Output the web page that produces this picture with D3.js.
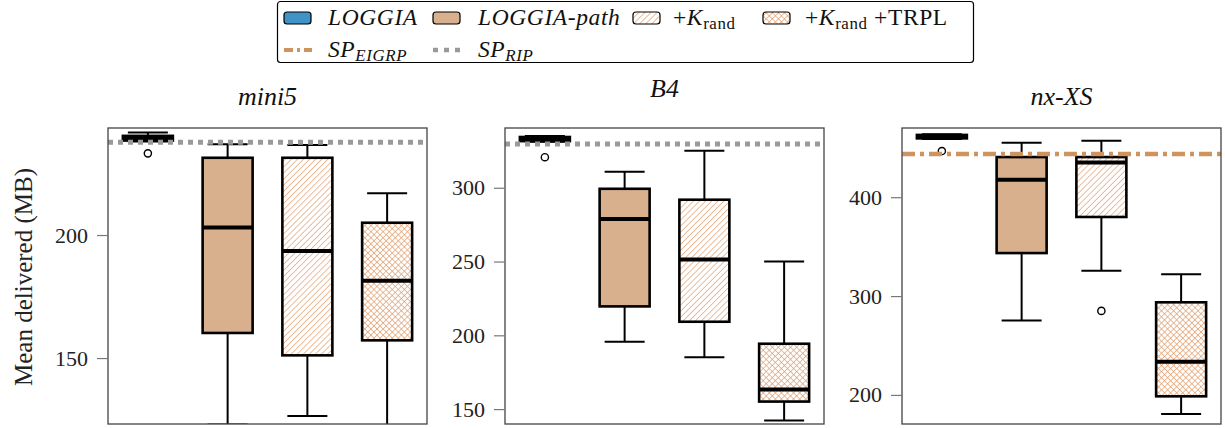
<!DOCTYPE html>
<html>
<head>
<meta charset="utf-8">
<script src="https://cdn.jsdelivr.net/npm/d3@7/dist/d3.min.js"></script>
<style>
  html, body { margin: 0; padding: 0; background: #fff; }
  svg { display: block; }
  svg text { font-family: "Liberation Serif", "DejaVu Serif", serif; }
</style>
</head>
<body>
<svg id="chart" width="1225" height="428"></svg>
<script>
// ---- data -------------------------------------------------------------
const methods = ["LOGGIA", "LOGGIA-path", "+Krand", "+Krand +TRPL"];
const topologies = ["mini5", "B4", "nx-XS"];

// box statistics per method: [lower whisker, Q1, median, Q3, upper whisker]
const mini5Stats = [
  [238.0, 238.4, 239.4, 240.3, 241.7],
  [123.0, 160.2, 203.1, 231.4, 236.9],
  [126.5, 151.1, 193.5, 231.4, 236.6],
  [110.0, 157.2, 181.4, 205.0, 217.0]
];
const b4Stats = [
  [331.2, 331.6, 333.0, 334.4, 335.0],
  [195.7, 219.6, 278.8, 299.3, 310.8],
  [185.1, 209.2, 251.4, 291.9, 325.0],
  [142.2, 155.1, 163.2, 194.3, 250.0]
];
const nxxsStats = [
  [458.8, 459.5, 461.3, 463.0, 463.8],
  [275.2, 343.5, 417.6, 440.6, 455.1],
  [325.5, 380.0, 435.2, 440.6, 457.2],
  [180.7, 198.6, 233.5, 293.7, 322.1]
];
// outliers per method
const mini5Outliers = [[233.2], [], [], []];
const b4Outliers = [[320.7], [], [], []];
const nxxsOutliers = [[446.7], [], [285.0], []];

// shortest-path reference levels
const mini5Ref = { name: "RIP", value: 237.7 };
const b4Ref = { name: "RIP", value: 329.7 };
const nxxsRef = { name: "EIGRP", value: 443.6 };

// axis ranges and ticks
const mini5Domain = [123.2, 243.5];
const b4Domain = [139.9, 340.5];
const nxxsDomain = [170.6, 470.0];
const mini5Ticks = [150, 200];
const b4Ticks = [150, 200, 250, 300];
const nxxsTicks = [200, 300, 400];

// ---- styling ----------------------------------------------------------
const BLUE = "#3f93c6";
const TAN = "#d9b08e";
const HATCH = "#e09a66";
const EIGRP_COLOR = "#cf935f";
const RIP_COLOR = "#9a9a9a";

const panels = [
  { title: "mini5", stats: mini5Stats, outliers: mini5Outliers, ref: mini5Ref, domain: mini5Domain, ticks: mini5Ticks, left: 108, titleY: 105 },
  { title: "B4", stats: b4Stats, outliers: b4Outliers, ref: b4Ref, domain: b4Domain, ticks: b4Ticks, left: 505, titleY: 97 },
  { title: "nx-XS", stats: nxxsStats, outliers: nxxsOutliers, ref: nxxsRef, domain: nxxsDomain, ticks: nxxsTicks, left: 902, titleY: 105 }
];
const PW = 319, TOP = 128, BOTTOM = 424;

const svg = d3.select("#chart");
const defs = svg.append("defs");

// hatch patterns: single diagonal and crossed diagonals
function hatchPattern(id, crossed) {
  const s = 4.3;
  const pat = defs.append("pattern").attr("id", id)
    .attr("patternUnits", "userSpaceOnUse").attr("width", s).attr("height", s)
    .attr("patternTransform", "rotate(45)");
  pat.append("rect").attr("width", s).attr("height", s).attr("fill", "#fff");
  pat.append("line").attr("x1", 0).attr("y1", 0).attr("x2", 0).attr("y2", s)
    .attr("stroke", HATCH).attr("stroke-width", 1.3);
  if (crossed) {
    pat.append("line").attr("x1", 0).attr("y1", 0).attr("x2", s).attr("y2", 0)
      .attr("stroke", HATCH).attr("stroke-width", 1.3);
  }
}
hatchPattern("hatchDiag", false);
hatchPattern("hatchCross", true);

const fills = [BLUE, TAN, "url(#hatchDiag)", "url(#hatchCross)"];

panels.forEach((p, pi) => {
  const g = svg.append("g");
  const x = d3.scaleBand().domain(methods).range([p.left, p.left + PW]);
  const y = d3.scaleLinear().domain(p.domain).range([BOTTOM, TOP]);

  const clipId = "clip" + pi;
  defs.append("clipPath").attr("id", clipId)
    .append("rect").attr("x", p.left).attr("y", TOP).attr("width", PW).attr("height", BOTTOM - TOP);

  const plot = g.append("g").attr("clip-path", `url(#${clipId})`);
  const boxW = 50, capW = 40;

  p.stats.forEach((s, i) => {
    const cx = x(methods[i]) + x.bandwidth() / 2;
    const [lo, q1, med, q3, hi] = s;
    const bg = plot.append("g");
    // whiskers and caps
    bg.append("line").attr("x1", cx).attr("x2", cx).attr("y1", y(hi)).attr("y2", y(q3))
      .attr("stroke", "#000").attr("stroke-width", 2);
    bg.append("line").attr("x1", cx).attr("x2", cx).attr("y1", y(q1)).attr("y2", y(lo))
      .attr("stroke", "#000").attr("stroke-width", 2);
    [lo, hi].forEach(v => bg.append("line")
      .attr("x1", cx - capW / 2).attr("x2", cx + capW / 2).attr("y1", y(v)).attr("y2", y(v))
      .attr("stroke", "#000").attr("stroke-width", 2));
    // interquartile box
    bg.append("rect").attr("x", cx - boxW / 2).attr("width", boxW)
      .attr("y", y(q3)).attr("height", Math.max(0.5, y(q1) - y(q3)))
      .attr("fill", fills[i]).attr("stroke", "#000").attr("stroke-width", 2.6);
    // median
    bg.append("line").attr("x1", cx - boxW / 2).attr("x2", cx + boxW / 2)
      .attr("y1", y(med)).attr("y2", y(med)).attr("stroke", "#000").attr("stroke-width", 4);
    // outliers
    p.outliers[i].forEach(v => bg.append("circle").attr("cx", cx).attr("cy", y(v)).attr("r", 3.6)
      .attr("fill", "#fff").attr("stroke", "#000").attr("stroke-width", 1.4));
  });

  // shortest-path reference line
  const isRip = p.ref.name === "RIP";
  plot.append("line").attr("x1", p.left).attr("x2", p.left + PW)
    .attr("y1", y(p.ref.value)).attr("y2", y(p.ref.value))
    .attr("stroke", isRip ? RIP_COLOR : EIGRP_COLOR)
    .attr("stroke-width", isRip ? 5 : 4.5)
    .attr("stroke-dasharray", isRip ? "5,5" : "13,5,4,5");

  // frame
  g.append("rect").attr("x", p.left).attr("y", TOP).attr("width", PW).attr("height", BOTTOM - TOP)
    .attr("fill", "none").attr("stroke", "#444").attr("stroke-width", 1.3);

  // y axis
  const ax = g.append("g").attr("transform", `translate(${p.left},0)`)
    .call(d3.axisLeft(y).tickValues(p.ticks).tickSize(11).tickPadding(9).tickFormat(d3.format("d")));
  ax.attr("font-family", null).attr("font-size", 22);
  ax.select(".domain").remove();
  ax.selectAll(".tick line").attr("stroke", "#777").attr("stroke-width", 1.2);
  ax.selectAll(".tick text").attr("font-size", 22).attr("fill", "#222");

  // panel title
  g.append("text").attr("x", p.left + PW / 2).attr("y", p.titleY)
    .attr("text-anchor", "middle").attr("font-size", 26).attr("font-style", "italic")
    .attr("fill", "#111").text(p.title);
});

// y axis label
svg.append("text").attr("transform", "translate(32,277) rotate(-90)")
  .attr("text-anchor", "middle").attr("font-size", 25).attr("fill", "#222")
  .text("Mean delivered (MB)");

// ---- legend -----------------------------------------------------------
const legend = svg.append("g");
legend.append("rect").attr("x", 277.5).attr("y", 1.5).attr("width", 696).attr("height", 61)
  .attr("rx", 3).attr("fill", "#fff").attr("stroke", "#000").attr("stroke-width", 1.2);

const patchX = [284, 433, 633, 763];
const textX = [328, 478, 673, 805];
const row1 = 18, row2 = 50;
const FS = 23.5;

[0, 1, 2, 3].forEach(i => {
  legend.append("rect").attr("x", patchX[i]).attr("y", row1 - 6).attr("width", 27).attr("height", 12)
    .attr("rx", 3).attr("fill", fills[i]).attr("stroke", "#000").attr("stroke-width", 1.2);
});

function addText(xp, yp) {
  return legend.append("text").attr("x", xp).attr("y", yp + 7).attr("font-size", FS)
    .attr("letter-spacing", 0.6).attr("fill", "#111");
}
addText(textX[0], row1).attr("font-style", "italic").text(methods[0]);
addText(textX[1], row1).attr("font-style", "italic").text(methods[1]);

function kLabel(t, extra) {
  t.append("tspan").text("+");
  t.append("tspan").attr("font-style", "italic").text("K");
  t.append("tspan").attr("font-size", FS * 0.72).attr("dy", 4).text("rand");
  if (extra) t.append("tspan").attr("dy", -4).text(" +" + extra);
}
kLabel(addText(textX[2], row1), null);
kLabel(addText(textX[3], row1), "TRPL");

legend.append("line").attr("x1", patchX[0]).attr("x2", patchX[0] + 28).attr("y1", row2).attr("y2", row2)
  .attr("stroke", EIGRP_COLOR).attr("stroke-width", 4).attr("stroke-dasharray", "9,4,3,4");
legend.append("line").attr("x1", patchX[1]).attr("x2", patchX[1] + 28).attr("y1", row2).attr("y2", row2)
  .attr("stroke", RIP_COLOR).attr("stroke-width", 4.5).attr("stroke-dasharray", "5,6");

function spLabel(t, sub) {
  t.attr("font-style", "italic");
  t.append("tspan").text("SP");
  t.append("tspan").attr("font-size", FS * 0.72).attr("dy", 4).text(sub);
}
spLabel(addText(textX[0], row2), "EIGRP");
spLabel(addText(textX[1], row2), "RIP");
</script>
</body>
</html>
